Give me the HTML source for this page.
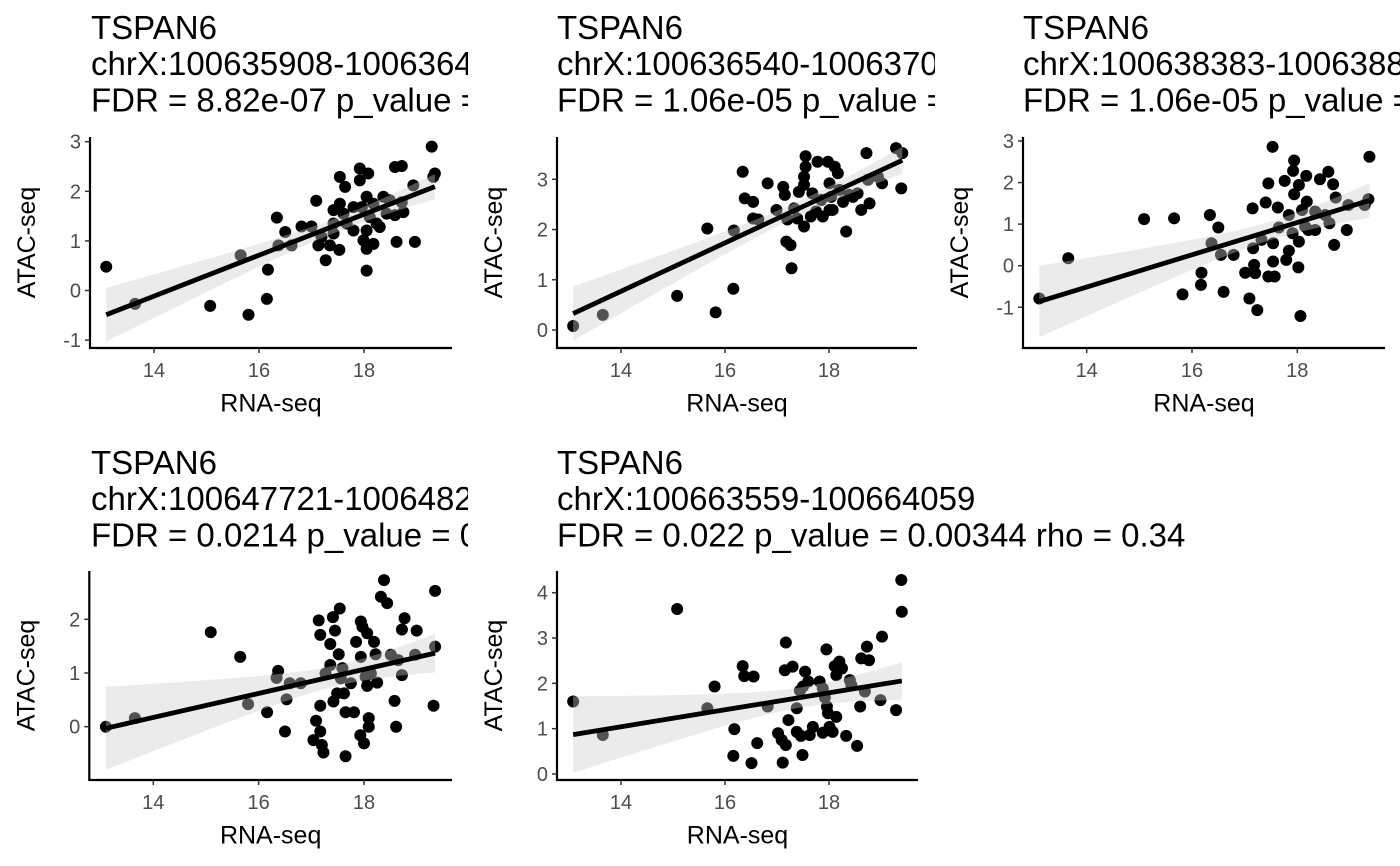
<!DOCTYPE html>
<html><head><meta charset="utf-8"><style>
html,body{margin:0;padding:0;background:#fff;}
svg{display:block;font-family:"Liberation Sans",Arial,sans-serif;}
</style></head><body>
<svg id="chart" width="1400" height="866" viewBox="0 0 1400 866" xmlns="http://www.w3.org/2000/svg">
<defs>
<clipPath id="clipT1"><rect x="0" y="0" width="468" height="130"/></clipPath>
<clipPath id="clipT2"><rect x="470" y="0" width="465" height="130"/></clipPath>
<clipPath id="clipT3"><rect x="935" y="0" width="465" height="130"/></clipPath>
<clipPath id="clipT4"><rect x="0" y="430" width="468" height="130"/></clipPath>
<clipPath id="clipT5"><rect x="470" y="430" width="930" height="130"/></clipPath>
</defs>
<g clip-path="url(#clipT1)" font-size="33" fill="#000">
<text x="91" y="39">TSPAN6</text><text x="91" y="75">chrX:100635908-1006364</text><text x="91" y="111.5">FDR = 8.82e-07 p_value =</text></g>
<g clip-path="url(#clipT2)" font-size="33" fill="#000">
<text x="557" y="39">TSPAN6</text><text x="557" y="75">chrX:100636540-1006370</text><text x="557" y="111.5">FDR = 1.06e-05 p_value =</text></g>
<g clip-path="url(#clipT3)" font-size="33" fill="#000">
<text x="1023" y="39">TSPAN6</text><text x="1023" y="75">chrX:100638383-1006388</text><text x="1023" y="111.5">FDR = 1.06e-05 p_value =</text></g>
<g clip-path="url(#clipT4)" font-size="33" fill="#000">
<text x="91" y="474">TSPAN6</text><text x="91" y="510">chrX:100647721-1006482</text><text x="91" y="546.5">FDR = 0.0214 p_value = 0</text></g>
<g clip-path="url(#clipT5)" font-size="33" fill="#000">
<text x="557" y="474">TSPAN6</text><text x="557" y="510">chrX:100663559-100664059</text><text x="557" y="546.5">FDR = 0.022 p_value = 0.00344 rho = 0.34</text></g>
</svg>
<script>
const rnaP1=[13.09,13.64,15.07,15.65,15.80,16.15,16.17,16.34,16.50,16.37,16.62,16.81,17.00,17.09,17.13,17.19,17.27,17.35,17.42,17.42,17.53,17.54,17.64,17.54,17.61,17.67,17.80,17.92,17.92,17.96,17.99,18.05,18.05,18.05,18.08,18.05,18.11,18.18,18.24,18.30,18.37,18.43,18.49,18.59,18.72,18.59,18.62,18.72,18.75,18.94,18.97,19.29,19.32,19.35,17.80,18.18,17.42];
const atacP1=[0.48,-0.27,-0.31,0.71,-0.49,-0.17,0.42,1.47,1.18,0.91,0.91,1.29,1.29,1.81,0.91,1.08,0.61,0.91,1.35,1.62,0.82,2.29,2.09,1.75,1.55,1.35,1.21,2.46,2.22,1.68,1.01,1.21,0.84,0.40,2.36,1.89,1.48,1.75,1.35,1.28,1.89,1.55,1.82,2.49,2.51,1.52,0.98,1.78,1.58,2.12,0.98,2.90,2.29,2.36,1.68,0.94,1.15];
const rnaP2=[13.08,13.65,15.08,15.66,15.82,16.16,16.17,16.34,16.38,16.54,16.54,16.64,16.82,16.99,17.12,17.15,17.18,17.26,17.28,17.20,17.33,17.39,17.42,17.52,17.55,17.55,17.52,17.52,17.65,17.68,17.78,17.85,17.88,17.98,18.01,18.04,18.07,18.11,18.17,18.20,18.27,18.33,18.39,18.46,18.55,18.62,18.72,18.75,18.78,18.94,19.02,19.29,19.41,19.39,18.01,17.75];
const atacP2=[0.08,0.30,0.68,2.02,0.35,0.82,1.98,3.15,2.62,2.55,2.22,2.20,2.92,2.39,2.85,2.69,1.76,1.69,1.23,2.20,2.42,2.22,2.75,2.89,3.46,3.25,3.05,2.06,2.26,2.72,3.35,2.59,2.26,3.35,2.92,2.65,2.39,3.25,3.12,2.79,2.55,1.96,2.69,2.65,2.72,2.39,3.52,2.99,2.52,3.05,2.92,3.62,3.52,2.82,2.39,2.36];
const rnaP3=[13.10,13.65,15.09,15.66,15.82,16.18,16.17,16.34,16.37,16.50,16.55,16.60,16.79,17.01,17.09,17.15,17.16,17.18,17.20,17.24,17.32,17.40,17.45,17.45,17.53,17.54,17.54,17.57,17.63,17.65,17.76,17.79,17.84,17.84,17.91,17.94,17.92,17.94,18.02,18.03,18.03,18.06,18.09,18.15,18.18,18.21,18.17,18.34,18.43,18.53,18.59,18.61,18.68,18.70,18.73,18.94,18.97,19.37,19.35,19.28,18.34];
const atacP3=[-0.79,0.18,1.12,1.14,-0.69,-0.17,-0.46,1.22,0.54,0.92,0.26,-0.63,0.26,-0.17,-0.79,1.38,0.42,0.02,-0.18,-1.07,0.62,1.52,1.98,-0.26,2.86,0.54,0.10,-0.26,1.40,0.92,2.04,0.14,0.36,1.22,0.78,2.53,2.28,1.72,-0.04,1.94,0.58,-1.21,1.34,0.94,1.54,0.86,2.16,1.30,2.08,1.22,2.26,1.02,1.96,0.50,1.64,0.86,1.46,2.62,1.60,1.46,0.86];
const rnaP4=[13.10,13.65,15.09,15.65,15.80,16.16,16.37,16.34,16.50,16.53,16.59,16.80,17.04,17.09,17.14,17.17,17.17,17.17,17.20,17.23,17.27,17.36,17.36,17.41,17.42,17.45,17.49,17.52,17.54,17.56,17.59,17.62,17.65,17.65,17.75,17.81,17.85,17.93,17.94,17.94,17.97,18.00,18.03,18.06,18.06,18.09,18.09,18.13,18.19,18.22,18.25,18.32,18.38,18.44,18.51,18.58,18.61,18.65,18.72,18.72,18.77,18.97,19.00,19.32,19.35,19.35];
const atacP4=[0.00,0.16,1.76,1.30,0.42,0.27,1.04,0.91,-0.09,0.51,0.81,0.81,-0.25,0.11,1.98,1.71,0.39,-0.09,-0.34,-0.48,0.99,1.54,1.15,2.04,0.47,1.79,0.62,1.35,2.20,0.90,1.09,0.62,-0.55,0.27,0.81,0.27,1.58,-0.16,1.30,1.96,1.86,-0.31,0.93,0.76,1.74,0.16,0.00,0.99,1.58,1.35,0.82,2.42,2.73,2.30,1.34,0.48,0.00,1.24,0.96,1.81,2.02,1.34,1.79,0.39,1.49,2.53];
const rnaP5=[13.08,13.65,15.08,15.66,15.80,16.16,16.18,16.34,16.37,16.51,16.55,16.62,16.82,17.02,17.09,17.11,17.17,17.17,17.15,17.22,17.30,17.38,17.38,17.46,17.49,17.50,17.54,17.60,17.63,17.69,17.82,17.88,17.92,17.95,17.96,17.98,18.01,18.07,18.11,18.14,18.14,18.20,18.25,18.33,18.40,18.43,18.54,18.60,18.62,18.69,18.73,18.77,18.99,19.02,19.29,19.39,19.40,17.88,17.44];
const atacP5=[1.60,0.86,3.64,1.45,1.93,0.40,0.99,2.38,2.16,0.24,2.15,0.68,1.49,0.90,0.75,0.25,0.64,2.90,2.29,1.19,2.37,1.45,0.93,0.84,0.42,1.93,2.26,2.04,0.86,1.04,2.04,0.91,1.69,2.75,1.49,1.34,1.04,0.93,2.38,2.18,1.26,2.48,2.33,0.84,2.07,1.96,0.62,1.49,2.55,1.82,2.81,2.51,1.63,3.03,1.41,4.28,3.58,1.89,1.84];
const xTickLabels=[14,16,18];
const yTicksP1=[-1,0,1,2,3];
const yTicksP2=[0,1,2,3];
const yTicksP3=[-1,0,1,2,3];
const yTicksP4=[0,1,2];
const yTicksP5=[0,1,2,3,4];

const NS='http://www.w3.org/2000/svg';
const svg=document.getElementById('chart');
function mk(tag,attrs,parent){const e=document.createElementNS(NS,tag);for(const k in attrs)e.setAttribute(k,attrs[k]);(parent||svg).appendChild(e);return e;}

const layouts=[
 {id:1,ax:90,top:137,right:452,base:348,x14:154,x18:364,yA:0,pA:290.5,yB:3,pB:141.7,xs:rnaP1,ys:atacP1,yt:yTicksP1},
 {id:2,ax:557,top:137,right:917,base:348,x14:621,x18:829,yA:0,pA:330,yB:3,pB:179.3,xs:rnaP2,ys:atacP2,yt:yTicksP2},
 {id:3,ax:1023,top:137,right:1385,base:348,x14:1086.7,x18:1297.3,yA:0,pA:265.7,yB:3,pB:141,xs:rnaP3,ys:atacP3,yt:yTicksP3},
 {id:4,ax:89.3,top:571,right:452,base:780,x14:153.3,x18:364,yA:0,pA:726.7,yB:2,pB:619.3,xs:rnaP4,ys:atacP4,yt:yTicksP4},
 {id:5,ax:557,top:571,right:918,base:780,x14:621,x18:829,yA:0,pA:774,yB:4,pB:592.7,xs:rnaP5,ys:atacP5,yt:yTicksP5}
];

layouts.forEach(L=>{
 const sx=v=>L.x14+(v-14)*(L.x18-L.x14)/4;
 const sy=v=>L.pA+(v-L.yA)*(L.pB-L.pA)/(L.yB-L.yA);
 const g=mk('g',{});
 
 
 const pg=mk('g',{fill:'#000'},g);
 
 
 L.xs.forEach((x,i)=>{
  const c=mk('circle',{cx:sx(x),cy:sy(L.ys[i]),r:6},pg);
  
  
 });
 const n=L.xs.length;
 const mx=L.xs.reduce((a,b)=>a+b,0)/n, my=L.ys.reduce((a,b)=>a+b,0)/n;
 let sxx=0,sxy=0;L.xs.forEach((x,i)=>{sxx+=(x-mx)*(x-mx);sxy+=(x-mx)*(L.ys[i]-my);});
 const b=sxy/sxx,a=my-b*mx;
 let rss=0;L.xs.forEach((x,i)=>{const r=L.ys[i]-(a+b*x);rss+=r*r;});
 const s=Math.sqrt(rss/(n-2)),t=2.0;
 const xmin=Math.min(...L.xs),xmax=Math.max(...L.xs);
 const up=[],lo=[];
 for(let k=0;k<=40;k++){const x=xmin+(xmax-xmin)*k/40;const f=a+b*x;const se=s*Math.sqrt(1/n+(x-mx)*(x-mx)/sxx);
  up.push(sx(x)+','+sy(f+t*se));lo.unshift(sx(x)+','+sy(f-t*se));}
 const rib=mk('polygon',{points:up.concat(lo).join(' '),fill:'rgb(205,205,205)','fill-opacity':0.4},g);
 
 
 const ln=mk('line',{x1:sx(xmin),y1:sy(a+b*xmin),x2:sx(xmax),y2:sy(a+b*xmax),stroke:'#000','stroke-width':4.8},g);
 
 
 const ya=mk('line',{x1:L.ax,y1:L.top,x2:L.ax,y2:L.base+1,stroke:'#000','stroke-width':2.2},g);
 
 
 const xa=mk('line',{x1:L.ax-1,y1:L.base,x2:L.right,y2:L.base,stroke:'#000','stroke-width':2.2},g);
 
 
 xTickLabels.forEach(v=>{
  mk('line',{x1:sx(v),y1:L.base,x2:sx(v),y2:L.base+5,stroke:'#333','stroke-width':1.5},g);
  const tx=mk('text',{x:sx(v),y:L.base+29,'text-anchor':'middle','font-size':20,fill:'#4d4d4d'},g);
  tx.textContent=v;
  
  
 });
 L.yt.forEach(v=>{
  mk('line',{x1:L.ax-5,y1:sy(v),x2:L.ax,y2:sy(v),stroke:'#333','stroke-width':1.5},g);
  const tx=mk('text',{x:L.ax-9,y:sy(v)+7,'text-anchor':'end','font-size':20,fill:'#4d4d4d'},g);
  tx.textContent=v;
  
  
 });
 const xt=mk('text',{x:(L.ax+L.right)/2,y:L.base+63.5,'text-anchor':'middle','font-size':25,fill:'#000'},g);
 xt.textContent='RNA-seq';
 
 
 const cy=(L.top+L.base)/2;const cx=L.ax-55;
 const yt=mk('text',{x:cx,y:cy,'text-anchor':'middle','font-size':25,fill:'#000',transform:'rotate(-90 '+cx+' '+cy+')'},g);
 yt.textContent='ATAC-seq';
 
 
});
</script>
</body></html>
